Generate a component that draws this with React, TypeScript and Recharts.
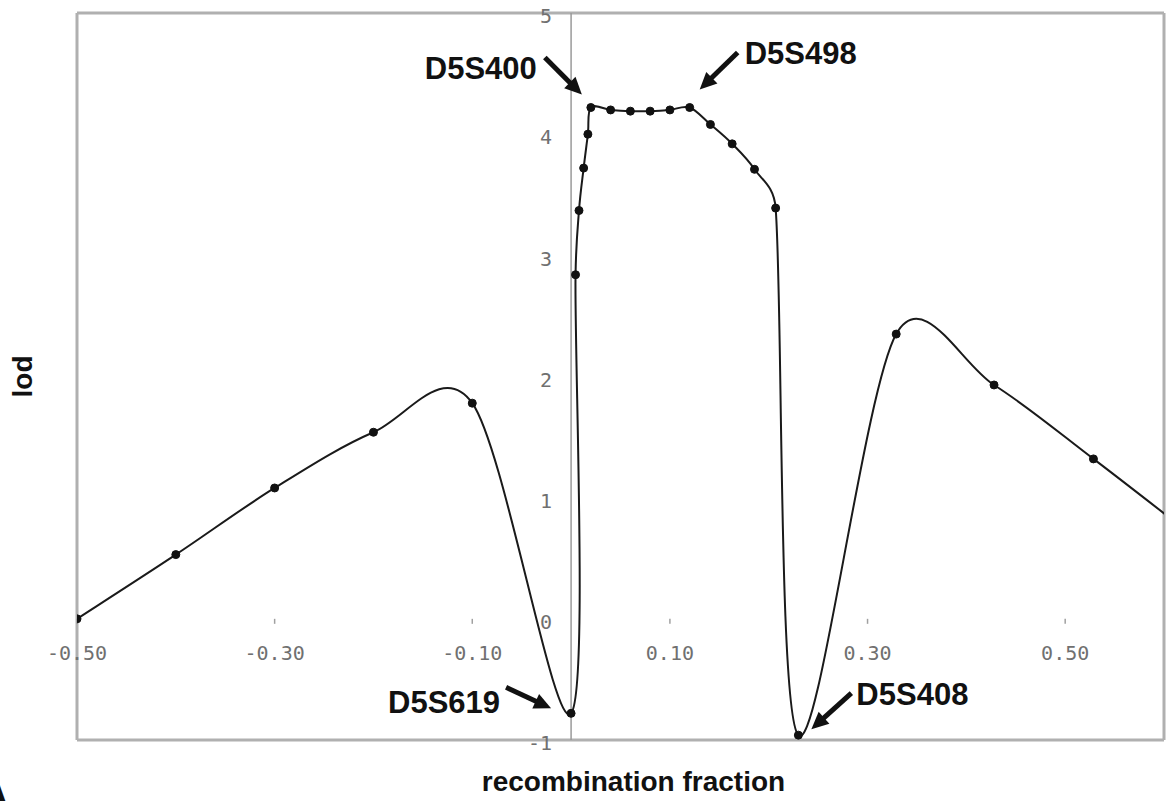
import React from "react";
import {
  LineChart,
  Line,
  XAxis,
  YAxis,
  CartesianGrid,
  ReferenceLine,
  ReferenceDot,
  Label,
} from "recharts";

// recombination fraction (theta) and lod score
const fractions = [
  -0.5, -0.4, -0.3, -0.2, -0.1, 0.0, 0.0045, 0.008, 0.0127, 0.017, 0.02, 0.04,
  0.06, 0.08, 0.1, 0.12, 0.141, 0.163, 0.1856, 0.207, 0.23, 0.329, 0.428,
  0.5286, 0.63,
];
const lodScores = [
  0.0, 0.53, 1.08, 1.54, 1.78, -0.78, 2.84, 3.37, 3.72, 4.0, 4.22, 4.2, 4.19,
  4.19, 4.2, 4.22, 4.08, 3.92, 3.71, 3.39, -0.96, 2.35, 1.93, 1.32, 0.68,
];

const xTickValues = [-0.5, -0.3, -0.1, 0.1, 0.3, 0.5];
const xTickLabels = ["-0.50", "-0.30", "-0.10", "0.10", "0.30", "0.50"];
const yTickValues = [-1, 0, 1, 2, 3, 4, 5];

const markerNames = ["D5S619", "D5S400", "D5S498", "D5S408"];
const markerFractions = [0.0, 0.02, 0.12, 0.23];
const markerLods = [-0.78, 4.22, 4.22, -0.96];

const data = fractions.map((x, i) => ({ x, lod: lodScores[i] }));

// pixel offsets of each callout relative to the marker it points at
const callouts: Record<string, any> = {
  D5S619: { tail: [-65, -26], tip: [-20, -5], text: [-71, -12], anchor: "end" },
  D5S400: { tail: [-46, -50], tip: [-9, -13], text: [-54, -40], anchor: "end" },
  D5S498: { tail: [48, -55], tip: [10, -18], text: [55, -55], anchor: "start" },
  D5S408: { tail: [53, -42], tip: [13, -6], text: [58, -41], anchor: "start" },
};

const gridGray = "#c2c2c2";
const frameGray = "#b0b0b0";
const tickFont = "'DejaVu Sans Mono', monospace";
const boldFont = "'Liberation Sans', Arial, sans-serif";

const dist = (a: number[], b: number[]) => Math.hypot(b[0] - a[0], b[1] - a[1]);

// Excel-style smoothed scatter line: bezier segments, control arms 1/6 of the
// neighbour chord, capped at half the segment length
const excelSmooth = (context: any) => {
  let pts: number[][] = [];
  return {
    areaStart() {},
    areaEnd() {},
    lineStart() {
      pts = [];
    },
    point(x: number, y: number) {
      pts.push([+x, +y]);
    },
    lineEnd() {
      if (!pts.length) return;
      context.moveTo(pts[0][0], pts[0][1]);
      for (let i = 0; i < pts.length - 1; i++) {
        const p0 = pts[i - 1] ?? pts[i];
        const p1 = pts[i];
        const p2 = pts[i + 1];
        const p3 = pts[i + 2] ?? p2;
        const d12 = dist(p1, p2);
        const d02 = dist(p0, p2);
        const d13 = dist(p1, p3);
        let fa = 1 / 6;
        let fb = 1 / 6;
        if (d02 / 6 >= d12 / 2 && d02 > 0) fa = d12 / 2 / d02;
        if (d13 / 6 >= d12 / 2 && d13 > 0) fb = d12 / 2 / d13;
        context.bezierCurveTo(
          p1[0] + fa * (p2[0] - p0[0]),
          p1[1] + fa * (p2[1] - p0[1]),
          p2[0] - fb * (p3[0] - p1[0]),
          p2[1] - fb * (p3[1] - p1[1]),
          p2[0],
          p2[1]
        );
      }
    },
  };
};

function Callout({ cx, cy, name }: any) {
  const c = callouts[name];
  const tx = cx + c.tail[0];
  const ty = cy + c.tail[1];
  const hx = cx + c.tip[0];
  const hy = cy + c.tip[1];
  const dx = hx - tx;
  const dy = hy - ty;
  const len = Math.sqrt(dx * dx + dy * dy);
  const ux = dx / len;
  const uy = dy / len;
  const headLen = 17;
  const headW = 8;
  const bx = hx - ux * headLen;
  const by = hy - uy * headLen;
  return (
    <g>
      <line x1={tx} y1={ty} x2={bx + ux * 2} y2={by + uy * 2} stroke="#111" strokeWidth={5} />
      <polygon
        points={`${hx},${hy} ${bx - uy * headW},${by + ux * headW} ${bx + uy * headW},${by - ux * headW}`}
        fill="#111"
      />
      <text
        x={cx + c.text[0]}
        y={cy + c.text[1]}
        dy="0.36em"
        textAnchor={c.anchor}
        fontFamily={boldFont}
        fontWeight="bold"
        fontSize={31}
        fill="#111"
      >
        {name}
      </text>
    </g>
  );
}

export default function App() {
  return (
    <div style={{ position: "absolute", left: 0, top: 0, width: 1168, height: 801, overflow: "hidden", background: "#fff" }}>
      <LineChart
        width={1168}
        height={801}
        data={data}
        margin={{ top: 13, right: 4, left: 0, bottom: 0 }}
      >
        <CartesianGrid vertical={false} stroke={gridGray} strokeWidth={2} />
        <XAxis
          type="number"
          dataKey="x"
          domain={[-0.5, 0.6]}
          allowDataOverflow
          ticks={xTickValues}
          tick={false}
          tickLine={false}
          axisLine={false}
          height={61}
        >
          <Label
            value="recombination fraction"
            position="insideBottom"
            offset={10}
            dx={13}
            style={{ fontFamily: boldFont, fontWeight: "bold", fontSize: 28, fill: "#111" }}
          />
        </XAxis>
        <YAxis
          type="number"
          domain={[-1, 5]}
          ticks={yTickValues}
          tick={false}
          tickLine={false}
          axisLine={false}
          width={77}
        >
          <Label
            value="lod"
            angle={-90}
            position="insideLeft"
            offset={22}
            style={{ textAnchor: "middle", fontFamily: boldFont, fontWeight: "bold", fontSize: 28, fill: "#111" }}
          />
        </YAxis>

        {/* plot frame */}
        <ReferenceLine y={5} stroke={frameGray} strokeWidth={3} />
        <ReferenceLine y={-1} stroke={frameGray} strokeWidth={3} />
        <ReferenceLine x={-0.5} stroke={frameGray} strokeWidth={3} />
        <ReferenceLine x={0.6} stroke={frameGray} strokeWidth={3} />
        {/* y axis crossing at theta = 0 */}
        <ReferenceLine x={0} stroke="#9a9a9a" strokeWidth={1.5} />

        {xTickValues.map((v, i) => (
          <ReferenceDot
            key={`xt${v}`}
            x={v}
            y={0}
            r={0}
            shape={(p: any) => (
              <g>
                <line x1={p.cx} y1={p.cy} x2={p.cx} y2={p.cy + 5} stroke="#a0a0a0" strokeWidth={1.5} />
                <text
                  x={p.cx}
                  y={p.cy + 34}
                  dy="0.36em"
                  textAnchor="middle"
                  fontFamily={tickFont}
                  fontSize={20}
                  fill="#707070"
                >
                  {xTickLabels[i]}
                </text>
              </g>
            )}
          />
        ))}

        {yTickValues.map((v) => (
          <ReferenceDot
            key={`yt${v}`}
            x={0}
            y={v}
            r={0}
            shape={(p: any) => (
              <text
                x={p.cx - 19}
                y={p.cy + 3}
                dy="0.36em"
                textAnchor="end"
                fontFamily={tickFont}
                fontSize={20}
                fill="#707070"
              >
                {v}
              </text>
            )}
          />
        ))}

        <Line
          type={excelSmooth as any}
          dataKey="lod"
          stroke="#1a1a1a"
          strokeWidth={2}
          dot={{ r: 4, fill: "#111", stroke: "#111", strokeWidth: 1 }}
          activeDot={false}
          isAnimationActive={false}
        />

        {markerNames.map((name, i) => (
          <ReferenceDot
            key={name}
            x={markerFractions[i]}
            y={markerLods[i]}
            r={0}
            shape={(p: any) => <Callout cx={p.cx} cy={p.cy} name={name} />}
          />
        ))}
      </LineChart>
      <div
        style={{
          position: "absolute",
          left: -20,
          top: 779,
          fontFamily: boldFont,
          fontWeight: "bold",
          fontSize: 44,
          lineHeight: 1,
          color: "#111",
        }}
      >
        A
      </div>
    </div>
  );
}
